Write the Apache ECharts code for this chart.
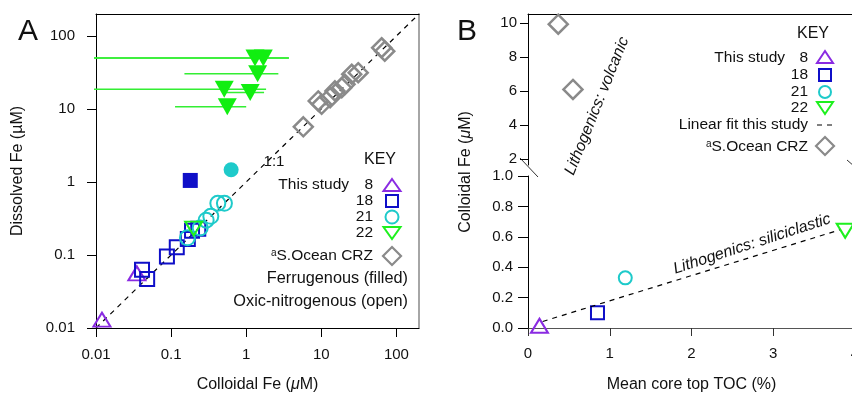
<!DOCTYPE html>
<html>
<head>
<meta charset="utf-8">
<script src="https://cdn.jsdelivr.net/npm/echarts@6/dist/echarts.min.js"></script>
<style>
  html, body { margin: 0; padding: 0; background: #fff; }
  #chart { width: 852px; height: 395px; }
</style>
</head>
<body>
<div id="chart"></div>
<script>
// ---- panel A : colloidal Fe (x) vs dissolved Fe (y), uM ----
const logTicks = ['0.01', '0.1', '1', '10', '100'];
const oneX = [0.01, 200], oneY = [0.01, 200];

const st8X = [0.012, 0.035], st8Y = [0.013, 0.056];
const st18X = [0.041, 0.048, 0.088, 0.119, 0.167, 0.19, 0.23];
const st18Y = [0.063, 0.047, 0.095, 0.128, 0.166, 0.215, 0.228];
const st18FX = [0.18], st18FY = [1.05];
const st21X = [0.165, 0.244, 0.293, 0.338, 0.419, 0.513];
const st21Y = [0.172, 0.235, 0.30, 0.339, 0.51, 0.51];
const st21FX = [0.63], st21FY = [1.47];
const st22X = [0.2], st22Y = [0.23];
const st22FX = [1.31, 1.69, 1.42, 0.51, 1.13, 0.56];
const st22FY = [50, 50, 30.5, 18.6, 16.8, 10.7];
const st22FErr = [2.4, 2.0, 1.26, 1.33, 0.6, 0.44];
const crzX = [5.76, 9.1, 10.1, 13.1, 15.2, 18.7, 20.7, 25.4, 31, 63.6, 70];
const crzY = [5.7, 12.9, 11.6, 14.3, 17.7, 19.6, 21.8, 29.9, 31.4, 69, 62];

// ---- panel B : mean core top TOC (%) vs colloidal Fe (uM) ----
const bTicksUp = [2, 4, 6, 8, 10];
const b8 = [[0.14, 0.015]], b18 = [[0.85, 0.1]], b21 = [[1.19, 0.33]], b22 = [[3.88, 0.64]];
const crzTocX = [0.37, 0.55], crzColY = [9.95, 6.1];
const fitX = [0.18, 3.81], fitY = [0.043, 0.645];

const FONT = '"Liberation Sans", Arial, sans-serif';
const PURPLE = '#8a2be2', BLUE = '#0f0fc8', CYAN = '#1ecaca', GREEN = '#1ef01e', GRAY = '#8a8a8a';
const TXT = '#111';

function pairs(xs, ys) {
  return xs.map((x, i) => [x, ys[i]]);
}
function open(c, w) {
  return { color: 'rgba(0,0,0,0)', borderColor: c, borderWidth: w || 2, opacity: 1 };
}
function fill(c) {
  return { color: c, opacity: 1 };
}
function logLabel(v) {
  let e = Math.log10(v);
  let r = Math.round(e);
  return Math.abs(e - r) < 1e-6 && logTicks[r + 2] ? logTicks[r + 2] : '';
}
let richName = {
  n: { fontFamily: FONT, fontSize: 16, color: TXT },
  i: { fontFamily: FONT, fontSize: 16, color: TXT, fontStyle: 'italic' }
};

// legend helpers (graphic)
function txt(x, y, s, size, align, extra) {
  return Object.assign({
    type: 'text', x: x, y: y,
    style: {
      text: s, fill: TXT, fontFamily: FONT, fontSize: size || 15,
      align: align || 'right', textAlign: align || 'right',
      verticalAlign: 'middle', textVerticalAlign: 'middle'
    }
  }, extra || {});
}
function supTxt(x, y, s) {
  return {
    type: 'text', x: x, y: y,
    style: {
      text: '{s|a}{n|' + s + '}', align: 'right', textAlign: 'right',
      verticalAlign: 'middle', textVerticalAlign: 'middle',
      rich: {
        s: { fontFamily: FONT, fontSize: 10, fill: TXT, verticalAlign: 'top' },
        n: { fontFamily: FONT, fontSize: 15.5, fill: TXT }
      }
    }
  };
}
function tri(x, y, w, h, c, down) {
  let p = down ? [[x - w / 2, y - h / 2], [x + w / 2, y - h / 2], [x, y + h / 2]]
               : [[x, y - h / 2], [x + w / 2, y + h / 2], [x - w / 2, y + h / 2]];
  return { type: 'polygon', shape: { points: p }, style: { fill: 'none', stroke: c, lineWidth: 2 } };
}
function sq(x, y, s, c) {
  return { type: 'rect', shape: { x: x - s / 2, y: y - s / 2, width: s, height: s }, style: { fill: 'none', stroke: c, lineWidth: 2 } };
}
function circ(x, y, r, c) {
  return { type: 'circle', shape: { cx: x, cy: y, r: r }, style: { fill: 'none', stroke: c, lineWidth: 2 } };
}
function dia(x, y, s, c) {
  let h = s / 2;
  return { type: 'polygon', shape: { points: [[x, y - h], [x + h, y], [x, y + h], [x - h, y]] }, style: { fill: 'none', stroke: c, lineWidth: 2.2 } };
}
function seg(x1, y1, x2, y2, c, dash) {
  return { type: 'line', shape: { x1: x1, y1: y1, x2: x2, y2: y2 }, style: { stroke: c || '#222', lineWidth: 1, lineDash: dash || null } };
}

let chart = echarts.init(document.getElementById('chart'));

let axLine = { show: true, lineStyle: { color: '#000', width: 1 } };
let axLab = { color: TXT, fontFamily: FONT, fontSize: 15 };

let option = {
  animation: false,
  backgroundColor: '#fff',
  grid: [
    { left: 96, top: 14, width: 323, height: 314, outerBoundsMode: 'none', containLabel: false },
    { left: 528, top: 14, width: 327, height: 151, outerBoundsMode: 'none', containLabel: false },
    { left: 528, top: 176, width: 327, height: 152, outerBoundsMode: 'none', containLabel: false }
  ],
  xAxis: [
    {
      type: 'log', gridIndex: 0, min: 0.01, max: 200, position: 'bottom',
      axisLine: axLine,
      axisTick: { length: 9, lineStyle: { color: '#000' }, customValues: [0.01, 0.1, 1, 10, 100] },
      axisLabel: Object.assign({ margin: 19, formatter: logLabel, customValues: [0.01, 0.1, 1, 10, 100] }, axLab),
      splitLine: { show: false }, minorTick: { show: false },
      name: '{n|Colloidal Fe (}{i|\u03bc}{n|M)}', nameLocation: 'middle', nameGap: 49,
      nameTextStyle: { rich: richName }
    },
    {
      type: 'log', gridIndex: 0, min: 0.01, max: 200, position: 'top',
      axisLine: axLine, axisTick: { show: false }, axisLabel: { show: false }, splitLine: { show: false }
    },
    {
      type: 'value', gridIndex: 1, min: 0, max: 4, position: 'top',
      axisLine: axLine, axisTick: { show: false }, axisLabel: { show: false }, splitLine: { show: false }
    },
    {
      type: 'value', gridIndex: 2, min: 0, max: 4, interval: 1, position: 'bottom',
      axisLine: { show: true, lineStyle: { color: '#555', width: 1 } },
      axisTick: { length: 8, lineStyle: { color: '#333' } },
      axisLabel: Object.assign({ margin: 18 }, axLab),
      splitLine: { show: false },
      name: 'Mean core top TOC (%)', nameLocation: 'middle', nameGap: 49,
      nameTextStyle: { fontFamily: FONT, fontSize: 16, color: TXT }
    }
  ],
  yAxis: [
    {
      type: 'log', gridIndex: 0, min: 0.01, max: 200, position: 'left',
      axisLine: axLine,
      axisTick: { length: 9, lineStyle: { color: '#000' }, customValues: [0.01, 0.1, 1, 10, 100] },
      axisLabel: Object.assign({ margin: 21, formatter: logLabel, customValues: [0.01, 0.1, 1, 10, 100] }, axLab),
      splitLine: { show: false }, minorTick: { show: false },
      name: 'Dissolved Fe (\u00b5M)', nameLocation: 'middle', nameGap: 70,
      nameTextStyle: { fontFamily: FONT, fontSize: 16, color: TXT }
    },
    {
      type: 'log', gridIndex: 0, min: 0.01, max: 200, position: 'right',
      axisLine: { show: true, lineStyle: { color: '#888', width: 1.5 } },
      axisTick: { show: false }, axisLabel: { show: false }, splitLine: { show: false }
    },
    {
      type: 'value', gridIndex: 1, min: 1.64, max: 10.55,
      axisLine: axLine,
      axisTick: { length: 8, lineStyle: { color: '#000' }, customValues: bTicksUp },
      axisLabel: Object.assign({ margin: 11, customValues: bTicksUp }, axLab),
      splitLine: { show: false }
    },
    {
      type: 'value', gridIndex: 2, min: 0, max: 1, interval: 0.2,
      axisLine: axLine,
      axisTick: { length: 10, lineStyle: { color: '#000' } },
      axisLabel: Object.assign({ margin: 15, formatter: v => v.toFixed(1) }, axLab),
      splitLine: { show: false }
    }
  ],
  series: [
    // panel A
    {
      type: 'line', xAxisIndex: 0, yAxisIndex: 0, data: pairs(oneX, oneY), symbol: 'none', silent: true,
      lineStyle: { color: '#000', width: 1.2, type: [5, 5] }, z: 1
    },
    {
      type: 'custom', xAxisIndex: 0, yAxisIndex: 0, z: 2, silent: true,
      data: st22FX.map((x, i) => [x, st22FY[i], st22FErr[i]]),
      renderItem: function (params, api) {
        let x = api.value(0), y = api.value(1), e = api.value(2);
        let p1 = api.coord([Math.max(x - e, 0.01), y]);
        let p2 = api.coord([x + e, y]);
        return { type: 'line', shape: { x1: p1[0] - 2, y1: p1[1], x2: p2[0], y2: p2[1] }, style: { stroke: '#33ee33', lineWidth: 1.5 } };
      }
    },
    { type: 'scatter', xAxisIndex: 0, yAxisIndex: 0, data: pairs(crzX, crzY), symbol: 'diamond', symbolSize: 19, itemStyle: open(GRAY, 2.5), z: 3 },
    { type: 'scatter', xAxisIndex: 0, yAxisIndex: 0, data: pairs(st8X, st8Y), symbol: 'triangle', symbolSize: [17, 14], itemStyle: open(PURPLE), z: 4 },
    { type: 'scatter', xAxisIndex: 0, yAxisIndex: 0, data: pairs(st18X, st18Y), symbol: 'rect', symbolSize: 14, itemStyle: open(BLUE), z: 4 },
    { type: 'scatter', xAxisIndex: 0, yAxisIndex: 0, data: pairs(st18FX, st18FY), symbol: 'rect', symbolSize: 15, itemStyle: fill(BLUE), z: 4 },
    { type: 'scatter', xAxisIndex: 0, yAxisIndex: 0, data: pairs(st21X, st21Y), symbol: 'circle', symbolSize: 15, itemStyle: open(CYAN), z: 4 },
    { type: 'scatter', xAxisIndex: 0, yAxisIndex: 0, data: pairs(st21FX, st21FY), symbol: 'circle', symbolSize: 15, itemStyle: fill(CYAN), z: 4 },
    { type: 'scatter', xAxisIndex: 0, yAxisIndex: 0, data: pairs(st22X, st22Y), symbol: 'triangle', symbolRotate: 180, symbolSize: [17, 14], itemStyle: open(GREEN), z: 5 },
    { type: 'scatter', xAxisIndex: 0, yAxisIndex: 0, data: pairs(st22FX, st22FY), symbol: 'triangle', symbolRotate: 180, symbolSize: [19, 17], itemStyle: fill('#11ee11'), z: 5 },
    // panel B upper
    { type: 'scatter', xAxisIndex: 2, yAxisIndex: 2, data: pairs(crzTocX, crzColY), symbol: 'diamond', symbolSize: 19, itemStyle: open(GRAY, 2.5) },
    // panel B lower
    {
      type: 'line', xAxisIndex: 3, yAxisIndex: 3, data: pairs(fitX, fitY), symbol: 'none', silent: true,
      lineStyle: { color: '#000', width: 1.2, type: [5, 5] }
    },
    { type: 'scatter', xAxisIndex: 3, yAxisIndex: 3, data: b8, symbol: 'triangle', symbolSize: [17, 14], itemStyle: open(PURPLE) },
    { type: 'scatter', xAxisIndex: 3, yAxisIndex: 3, data: b18, symbol: 'rect', symbolSize: 13, itemStyle: open(BLUE) },
    { type: 'scatter', xAxisIndex: 3, yAxisIndex: 3, data: b21, symbol: 'circle', symbolSize: 13, itemStyle: open(CYAN) },
    { type: 'scatter', xAxisIndex: 3, yAxisIndex: 3, data: b22, symbol: 'triangle', symbolRotate: 180, symbolSize: [17, 14], itemStyle: open(GREEN) }
  ],
  graphic: {
    elements: [
      // panel letters
      txt(28, 32, 'A', 30, 'center'),
      txt(467, 32, 'B', 30, 'center'),
      txt(274, 162, '1:1', 15, 'center'),
      // key A
      txt(380, 160, 'KEY', 16, 'center'),
      txt(349, 185, 'This study', 15.5),
      txt(373, 185, '8', 15.5), txt(373, 201, '18', 15.5), txt(373, 217, '21', 15.5), txt(373, 233, '22', 15.5),
      tri(392, 185, 17, 12, PURPLE), sq(392, 201, 12, BLUE), circ(392, 217, 6.5, CYAN), tri(392, 233, 17, 12, GREEN, true),
      supTxt(373, 256, 'S.Ocean CRZ'), dia(392, 256, 18, GRAY),
      txt(408, 279, 'Ferrugenous (filled)', 16.3),
      txt(408, 302, 'Oxic-nitrogenous (open)', 16.3),
      // key B
      txt(813, 34, 'KEY', 16, 'center'),
      txt(785, 58, 'This study', 15.5),
      txt(808, 58, '8', 15.5), txt(808, 75, '18', 15.5), txt(808, 92, '21', 15.5), txt(808, 108, '22', 15.5),
      tri(825, 57, 16, 12, PURPLE), sq(825, 75, 12, BLUE), circ(825, 92, 6, CYAN), tri(825, 108, 16, 12, GREEN, true),
      txt(808, 125, 'Linear fit this study', 15.5), seg(817, 125, 836, 125, '#000', [5, 5]),
      supTxt(808, 147, 'S.Ocean CRZ'), dia(825, 146, 18, GRAY),
      // B labels
      {
        type: 'text', x: 466, y: 172, rotation: Math.PI / 2,
        style: {
          text: '{n|Colloidal Fe (}{i|\u03bc}{n|M)}', align: 'center', textAlign: 'center',
          verticalAlign: 'middle', textVerticalAlign: 'middle',
          rich: { n: { fontFamily: FONT, fontSize: 16, fill: TXT }, i: { fontFamily: FONT, fontSize: 16, fill: TXT, fontStyle: 'italic' } }
        }
      },
      txt(597, 106, 'Lithogenics: volcanic', 16, 'center', { rotation: 68 * Math.PI / 180 }),
      txt(752, 244, 'Lithogenics: siliciclastic', 16, 'center', { rotation: 18 * Math.PI / 180 }),
      // axis break marks
      seg(520, 158, 538, 177, '#333'),
      seg(847, 160, 862, 173, '#333')
    ].map(e => {
      if (e.type === 'text' && (e.style.text || '').indexOf('Lithogenics') === 0) e.style.fontStyle = 'italic';
      return e;
    })
  }
};

chart.setOption(option);
</script>
</body>
</html>
